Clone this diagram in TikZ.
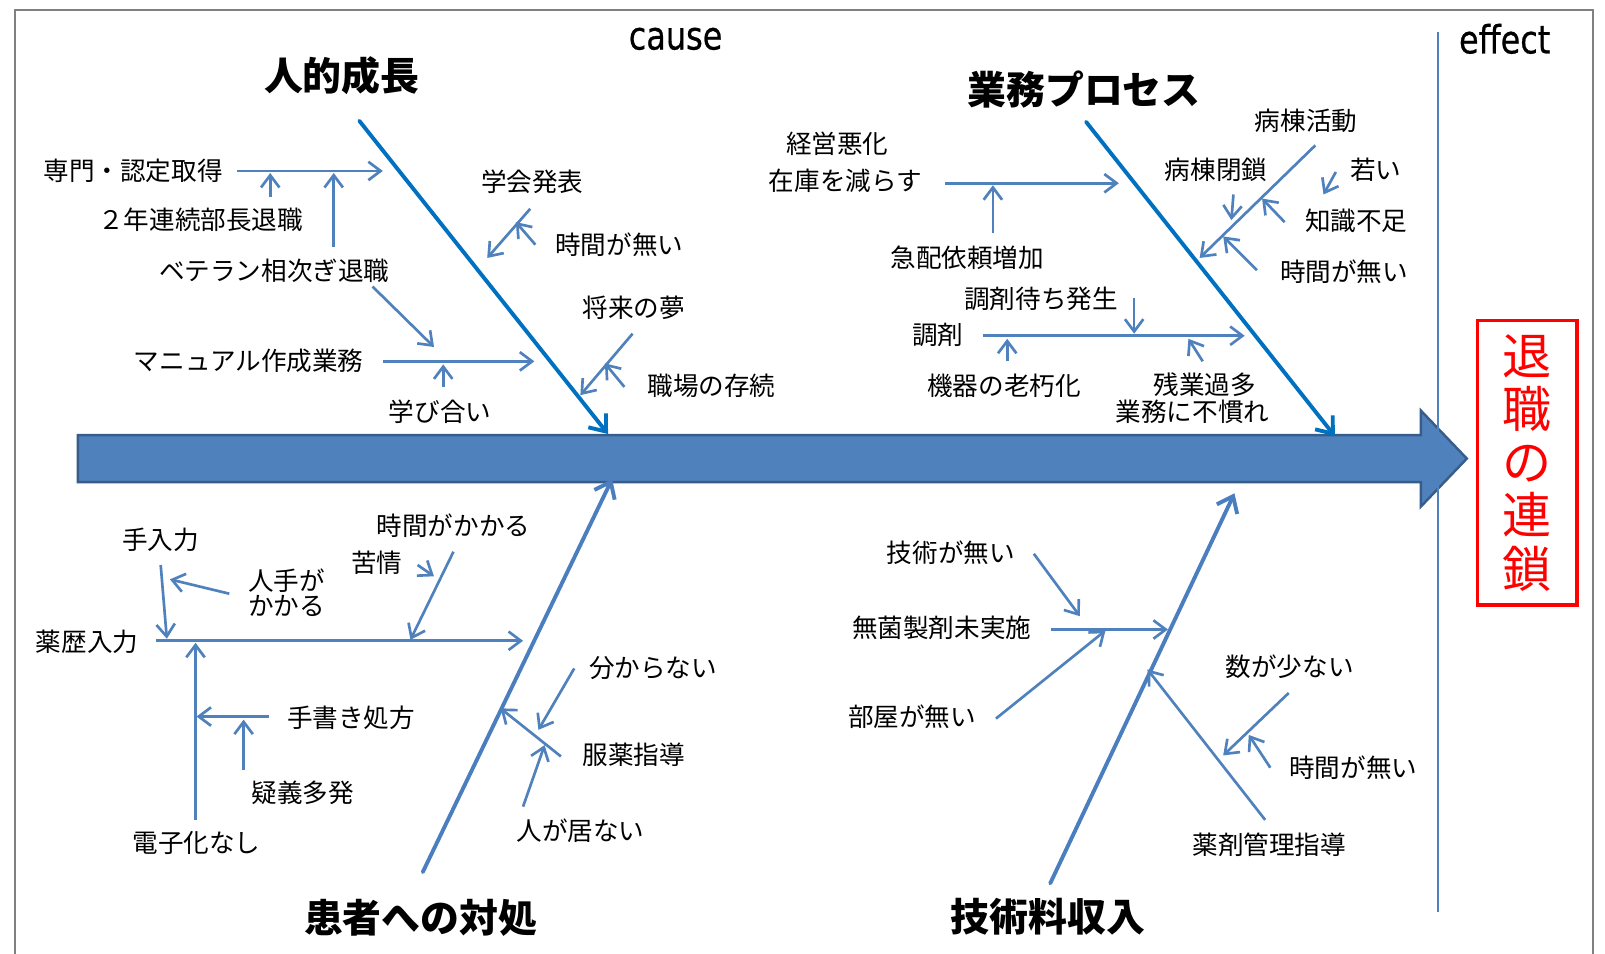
\documentclass[tikz,border=0pt]{standalone}
\usepackage{fontspec}
\setmainfont{Noto Sans CJK JP}
\newfontfamily\latinfont[FakeStretch=0.82,FakeBold=0.6]{DejaVu Sans}
\usetikzlibrary{arrows.meta}
\definecolor{bonedark}{RGB}{0,112,192}
\definecolor{bonelight}{RGB}{74,126,190}
\definecolor{subblue}{RGB}{79,129,189}
\definecolor{barfill}{RGB}{79,129,189}
\definecolor{barline}{RGB}{56,93,138}
\definecolor{framegray}{RGB}{128,128,128}
\tikzset{
  bonetop/.style={draw=bonedark, line width=1.9pt, line cap=round, -{Straight Barb[length=7pt,width=11pt,line width=1.9pt]}},
  bonebot/.style={draw=bonelight, line width=1.9pt, line cap=round, -{Straight Barb[length=7pt,width=11pt,line width=1.9pt]}},
  sub/.style={draw=subblue, line width=1.3pt, -{Straight Barb[length=6pt,width=9pt,line width=1.3pt]}},
  lbl/.style={font=\fontsize{12.5}{14}\selectfont, inner sep=0pt, text=black},
  ttl/.style={font=\bfseries\fontsize{19}{22}\selectfont, inner sep=0pt},
  lat/.style={font=\latinfont\fontsize{19}{22}\selectfont, inner sep=0pt, text=black},
}
\begin{document}
\begin{tikzpicture}[x=0.5pt,y=-0.5pt]
\useasboundingbox (0,0) rectangle (1568,932);
\fill[white] (0,0) rectangle (1568,932);
% frame
\draw[framegray, line width=1pt] (15,945) -- (15,10) -- (1556,10) -- (1556,945);
% main arrow
\draw[fill=barfill, draw=barline, line width=1.2pt]
  (76,425) -- (1388,425) -- (1388,401) -- (1433,448) -- (1388,495) -- (1388,471) -- (76,471) -- cycle;
% separator
\coordinate (sepT) at (1405,31);
\coordinate (sepB) at (1405,891);
\draw[subblue, line width=0.7pt] (sepT) -- (sepB);
% headings
\node[lat] (cause) at (660,38) {cause};
\node[lat] (effect) at (1470,38) {effect};
\node[ttl] (t1) at (334,74) {人的成長};
\node[ttl] (t2) at (1059,87) {業務プロセス};
\node[ttl] (t3) at (411,897) {患者への対処};
\node[ttl] (t4) at (1024,896) {技術料収入};
% effect box
\node[draw=red, line width=1.6pt, inner sep=0pt, minimum width=48.5pt, minimum height=139pt] (eff) at (1492,452) {};
\node[text=red, font=\fontsize{24}{26}\selectfont, align=center, inner sep=0pt] (efftxt) at (1492,452) {退\\職\\の\\連\\鎖};
% bones
\coordinate (b1s) at (351,118); \coordinate (b1e) at (594,424);
\coordinate (b2s) at (1061,119); \coordinate (b2e) at (1304,426);
\coordinate (b3s) at (413,852); \coordinate (b3e) at (598,468);
\coordinate (b4s) at (1026,863); \coordinate (b4e) at (1206,482);
\draw[bonetop] (b1s) -- (b1e);
\draw[bonetop] (b2s) -- (b2e);
\draw[bonebot] (b3s) -- (b3e);
\draw[bonebot] (b4s) -- (b4e);
% ---- labels: 人的成長
\node[lbl] (l1) at (130,167) {専門・認定取得};
\node[lbl] (l2) at (196,215) {２年連続部長退職};
\node[lbl] (l3) at (268,265) {ベテラン相次ぎ退職};
\node[lbl] (l4) at (243,353) {マニュアル作成業務};
\node[lbl] (l5) at (430,402) {学び合い};
\node[lbl] (l6) at (520,178) {学会発表};
\node[lbl] (l7) at (605,239) {時間が無い};
\node[lbl] (l8) at (619,301) {将来の夢};
\node[lbl] (l9) at (695,377) {職場の存続};
% ---- labels: 業務プロセス
\node[lbl] (m1) at (818,140) {経営悪化};
\node[lbl] (m2) at (826,177) {在庫を減らす};
\node[lbl] (m3) at (945,252) {急配依頼増加};
\node[lbl] (m4) at (1276,118) {病棟活動};
\node[lbl] (m5) at (1188,166) {病棟閉鎖};
\node[lbl] (m6) at (1344,166) {若い};
\node[lbl] (m7) at (1325,216) {知識不足};
\node[lbl] (m8) at (1313,265) {時間が無い};
\node[lbl] (m9) at (1017,292) {調剤待ち発生};
\node[lbl] (m10) at (916,327) {調剤};
\node[lbl] (m11) at (981,377) {機器の老朽化};
\node[lbl] (m12) at (1177,376) {残業過多};
\node[lbl] (m13) at (1165,402) {業務に不慣れ};
% ---- labels: 患者への対処
\node[lbl] (p1) at (443,514) {時間がかかる};
\node[lbl] (p2) at (368,550) {苦情};
\node[lbl] (p3) at (157,527) {手入力};
\node[lbl, align=left] (p4) at (280,579) {人手が\\[-2pt]かかる};
\node[lbl] (p5) at (85,627) {薬歴入力};
\node[lbl] (p6) at (343,701) {手書き処方};
\node[lbl] (p7) at (296,775) {疑義多発};
\node[lbl] (p8) at (192,824) {電子化なし};
\node[lbl] (p9) at (638,653) {分からない};
\node[lbl] (p10) at (619,737) {服薬指導};
\node[lbl] (p11) at (567,812) {人が居ない};
% ---- labels: 技術料収入
\node[lbl] (q1) at (929,540) {技術が無い};
\node[lbl] (q2) at (920,613) {無菌製剤未実施};
\node[lbl] (q3) at (891,700) {部屋が無い};
\node[lbl] (q4) at (1260,651) {数が少ない};
\node[lbl] (q5) at (1322,750) {時間が無い};
\node[lbl] (q6) at (1240,825) {薬剤管理指導};
% ---- connector coordinates and arrows
\coordinate (a1s) at (232,167); \coordinate (a1e) at (374,167);
\coordinate (a2s) at (264,192); \coordinate (a2e) at (264,169);
\coordinate (a3s) at (326,241); \coordinate (a3e) at (326,169);
\coordinate (a4s) at (364,280); \coordinate (a4e) at (424,339);
\coordinate (a5s) at (374,353); \coordinate (a5e) at (522,353);
\coordinate (a6s) at (433,378); \coordinate (a6e) at (433,356);
\coordinate (a7s) at (518,204); \coordinate (a7e) at (476,252);
\coordinate (a8s) at (523,239); \coordinate (a8e) at (504,217);
\coordinate (a9s) at (618,326); \coordinate (a9e) at (567,386);
\coordinate (a10s) at (610,378); \coordinate (a10e) at (591,355);
\foreach \i in {1,...,10} {\draw[sub] (a\i s) -- (a\i e);}
\coordinate (c1s) at (923,179); \coordinate (c1e) at (1093,179);
\coordinate (c2s) at (970,228); \coordinate (c2e) at (970,181);
\coordinate (c3s) at (1285,142); \coordinate (c3e) at (1172,252);
\coordinate (c4s) at (1205,190); \coordinate (c4e) at (1203,215);
\coordinate (c5s) at (1305,168); \coordinate (c5e) at (1293,190);
\coordinate (c6s) at (1255,217); \coordinate (c6e) at (1233,194);
\coordinate (c7s) at (1228,264); \coordinate (c7e) at (1195,231);
\coordinate (c8s) at (1108,291); \coordinate (c8e) at (1108,326);
\coordinate (c9s) at (960,328); \coordinate (c9e) at (1216,328);
\coordinate (c10s) at (984,353); \coordinate (c10e) at (984,331);
\coordinate (c11s) at (1175,353); \coordinate (c11e) at (1161,331);
\foreach \i in {1,...,11} {\draw[sub] (c\i s) -- (c\i e);}
\coordinate (d1s) at (443,539); \coordinate (d1e) at (401,625);
\coordinate (d2s) at (408,552); \coordinate (d2e) at (424,563);
\coordinate (d3s) at (157,552); \coordinate (d3e) at (163,624);
\coordinate (d4s) at (224,580); \coordinate (d4e) at (166,566);
\coordinate (d5s) at (152,626); \coordinate (d5e) at (511,626);
\coordinate (d6s) at (191,801); \coordinate (d6e) at (191,628);
\coordinate (d7s) at (263,700); \coordinate (d7e) at (192,700);
\coordinate (d8s) at (238,752); \coordinate (d8e) at (238,703);
\coordinate (d9s) at (561,653); \coordinate (d9e) at (526,713);
\coordinate (d10s) at (548,739); \coordinate (d10e) at (489,692);
\coordinate (d11s) at (511,788); \coordinate (d11e) at (532,728);
\foreach \i in {1,...,11} {\draw[sub] (d\i s) -- (d\i e);}
\coordinate (e1s) at (1010,541); \coordinate (e1e) at (1055,602);
\coordinate (e2s) at (1027,615); \coordinate (e2e) at (1141,615);
\coordinate (e3s) at (973,702); \coordinate (e3e) at (1080,616);
\coordinate (e4s) at (1259,677); \coordinate (e4e) at (1195,738);
\coordinate (e5s) at (1241,750); \coordinate (e5e) at (1220,718);
\coordinate (e6s) at (1236,801); \coordinate (e6e) at (1121,654);
\foreach \i in {1,...,6} {\draw[sub] (e\i s) -- (e\i e);}
\end{tikzpicture}
\end{document}
